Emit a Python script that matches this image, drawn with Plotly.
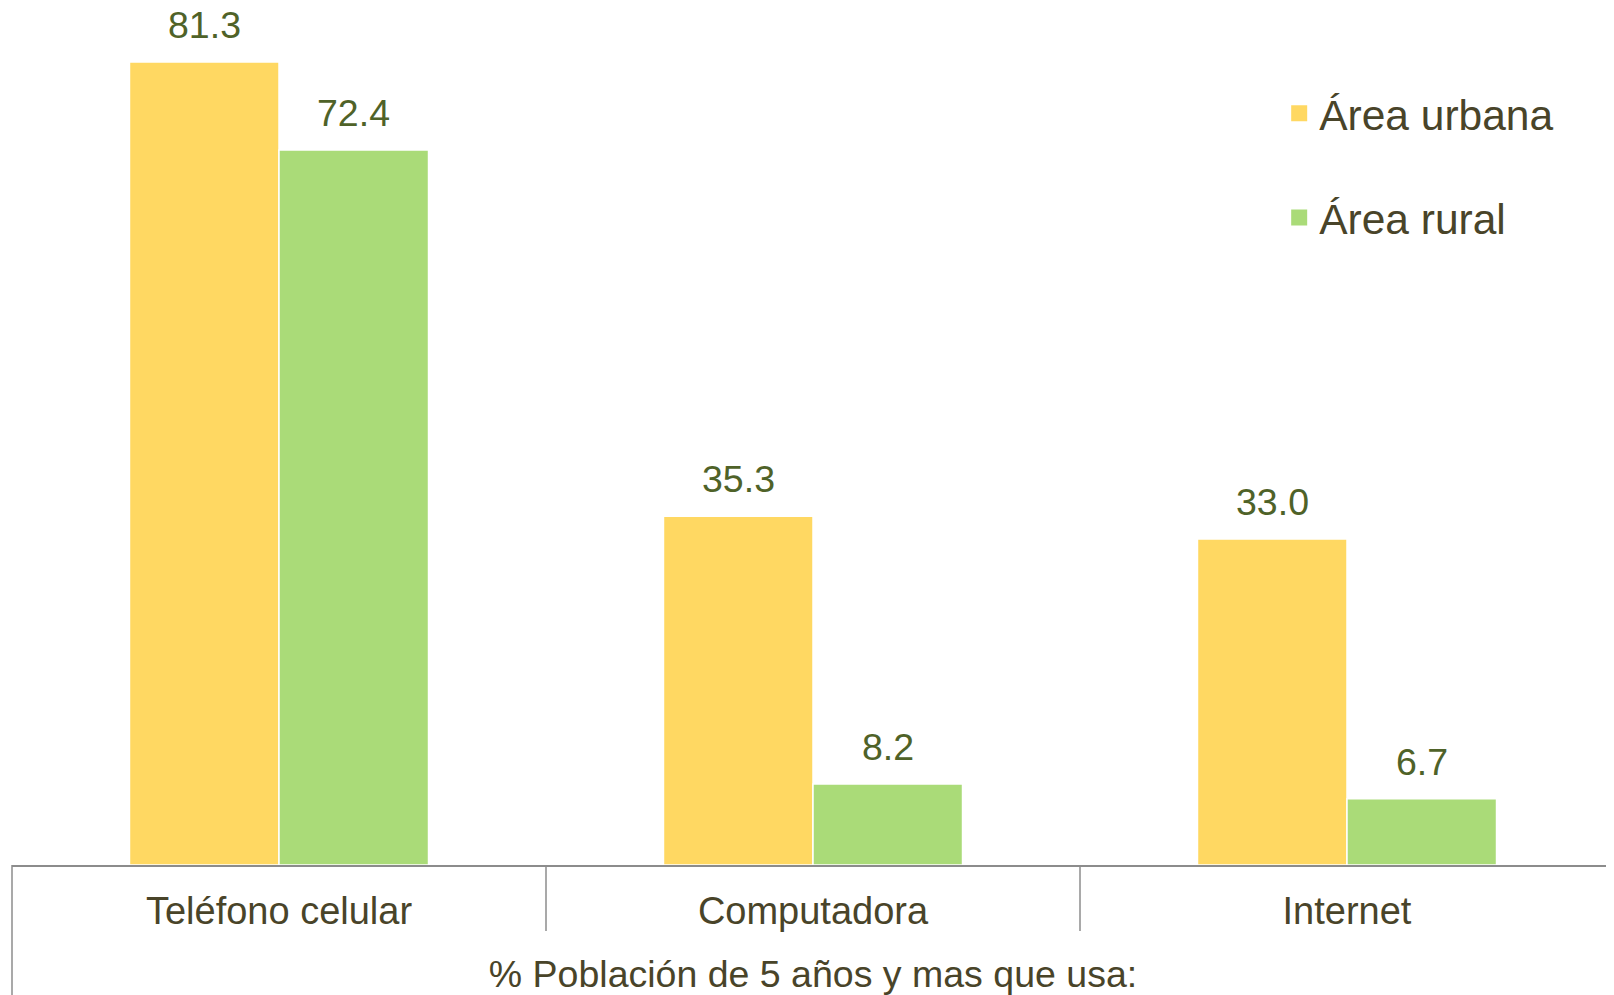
import plotly.graph_objects as go

categories = ["Teléfono celular", "Computadora", "Internet"]
urbana = [81.3, 35.3, 33.0]
rural = [72.4, 8.2, 6.7]
series_names = ["Área urbana", "Área rural"]
axis_title = "% Población de 5 años y mas que usa:"

C_URB = "#FFD862"
C_RUR = "#AADB78"
C_VAL = "#4F6228"
C_TXT = "#494429"
C_AX = "#8C8C8C"
FONT = "Liberation Sans, Arial, sans-serif"

# page body has an 8px default margin, so the figure is sized to fill the rest of the window
W, H = 1606, 987
ML, MB = 4, 130
BARGAP = 0.44
YMAX = 86.77

fig = go.Figure()
for name, vals, col in [(series_names[0], urbana, C_URB), (series_names[1], rural, C_RUR)]:
    fig.add_trace(go.Bar(x=categories, y=vals, name=name, marker=dict(color=col, line=dict(color="white", width=1.5)),
                         showlegend=False, hoverinfo="x+y"))
    fig.add_trace(go.Scatter(x=[None], y=[None], mode="markers", name=name, legendgroup=name,
                             marker=dict(symbol="square", size=18, color=col)))

# value labels
bw = (1 - BARGAP) / 2
ann = []
for i in range(len(categories)):
    for vals, off in [(urbana, -bw / 2), (rural, bw / 2)]:
        ann.append(dict(x=i + off, y=vals[i], xref="x", yref="y", text=f"{vals[i]:.1f}", showarrow=False,
                        yanchor="middle", yshift=37, borderpad=0, font=dict(family=FONT, size=37.5, color=C_VAL)))

plot_h = H - MB
shapes = [
    dict(type="line", xref="paper", yref="paper", x0=0, x1=0, y0=0, y1=-MB / plot_h, line=dict(color=C_AX, width=1.5)),
    dict(type="line", xref="paper", yref="paper", x0=1 / 3, x1=1 / 3, y0=0, y1=-66 / plot_h, line=dict(color=C_AX, width=1.5)),
    dict(type="line", xref="paper", yref="paper", x0=2 / 3, x1=2 / 3, y0=0, y1=-66 / plot_h, line=dict(color=C_AX, width=1.5)),
]

fig.update_layout(
    width=W, height=H,
    margin=dict(l=ML, r=0, t=0, b=MB, pad=0, autoexpand=False),
    paper_bgcolor="white", plot_bgcolor="white",
    barmode="group", bargap=BARGAP, bargroupgap=0,
    font=dict(family=FONT, color=C_TXT),
    annotations=ann, shapes=shapes,
    legend=dict(x=0.791, xanchor="left", y=1 - 71 / plot_h, yanchor="top", font=dict(size=42.5, color=C_TXT),
                tracegroupgap=46, bgcolor="rgba(0,0,0,0)"),
    xaxis=dict(showline=True, linecolor=C_AX, linewidth=1.5, ticks="", tickfont=dict(size=38, color=C_TXT),
               ticklabelstandoff=12, title=dict(text=axis_title, font=dict(size=37.5, color=C_TXT), standoff=34),
               range=[-0.5, 2.5], fixedrange=True, automargin=False),
    yaxis=dict(visible=False, range=[0, YMAX], fixedrange=True, automargin=False),
)

fig.write_html("out.html")
